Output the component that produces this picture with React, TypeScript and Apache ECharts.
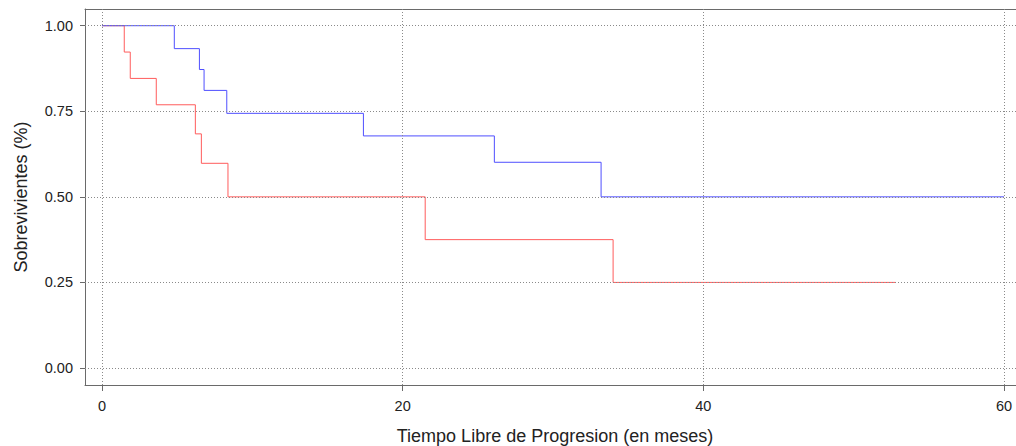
import React, { useEffect, useRef } from "react";
import * as echarts from "echarts";

// Kaplan-Meier steps: [month, survival]
const blueTimes = [0, 4.81, 6.48, 6.79, 8.3, 17.39, 26.1, 33.2, 60];
const blueSurv = [1.0, 0.933, 0.872, 0.811, 0.744, 0.678, 0.601, 0.5, 0.5];
const redTimes = [0, 1.48, 1.88, 3.61, 6.21, 6.61, 8.38, 21.5, 34.0, 52.8];
const redSurv = [1.0, 0.923, 0.846, 0.769, 0.684, 0.598, 0.5, 0.375, 0.25, 0.25];

const xTicks = [0, 20, 40, 60];
const yTicks = [0, 0.25, 0.5, 0.75, 1.0];

const xTitle = "Tiempo Libre de Progresion (en meses)";
const yTitle = "Sobrevivientes (%)";

export default function App() {
  const ref = useRef<HTMLDivElement>(null);
  useEffect(() => {
    if (!ref.current) return;
    const chart = echarts.init(ref.current, null, { renderer: "svg" });
    const font = "'Liberation Sans', Arial, sans-serif";
    const axisColor = "#6a6a6a";
    const gridStyle = { color: "#8a8a8a", width: 1, type: [1, 2] as any };
    const pairs = (t: number[], s: number[]) => t.map((v, i) => [v, s[i]]);
    chart.setOption({
      animation: false,
      backgroundColor: "#ffffff",
      textStyle: { fontFamily: font },
      grid: {
        left: 85,
        top: 9,
        width: 940,
        height: 376,
        containLabel: false,
        outerBoundsMode: "none",
      },
      xAxis: [
        {
          type: "value",
          min: -1.131,
          max: 61.4,
          position: "bottom",
          name: xTitle,
          nameLocation: "middle",
          nameGap: 42,
          nameTextStyle: { fontSize: 18, color: "#222", fontFamily: font },
          axisLine: { show: true, onZero: false, lineStyle: { color: axisColor, width: 1 } },
          axisTick: { show: true, length: 6, customValues: xTicks, lineStyle: { color: axisColor } },
          axisLabel: { customValues: xTicks, fontSize: 14.5, color: "#222", margin: 13, fontFamily: font },
          splitLine: { show: false },
        },
        {
          type: "value",
          min: -1.131,
          max: 61.4,
          position: "top",
          axisLine: { show: true, onZero: false, lineStyle: { color: axisColor, width: 1 } },
          axisTick: { show: false },
          axisLabel: { show: false },
          splitLine: { show: false },
        },
      ],
      yAxis: {
        type: "value",
        min: -0.0497,
        max: 1.0488,
        name: yTitle,
        nameLocation: "middle",
        nameGap: 55,
        nameTextStyle: { fontSize: 18, color: "#222", fontFamily: font },
        axisLine: { show: true, onZero: false, lineStyle: { color: axisColor, width: 1 } },
        axisTick: { show: true, length: 5, customValues: yTicks, lineStyle: { color: axisColor } },
        axisLabel: {
          customValues: yTicks,
          fontSize: 14.5,
          color: "#222",
          margin: 12,
          fontFamily: font,
          formatter: (v: number) => v.toFixed(2),
        },
        splitLine: { show: false },
      },
      series: [
        {
          type: "line",
          data: [[0, 1]],
          symbol: "none",
          lineStyle: { opacity: 0 },
          silent: true,
          z: 1,
          markLine: {
            silent: true,
            symbol: "none",
            label: { show: false },
            lineStyle: gridStyle,
            emphasis: { disabled: true },
            data: [
              ...xTicks.map((v) => ({ xAxis: v })),
              ...yTicks.map((v) => ({ yAxis: v })),
            ],
          },
        },
        {
          name: "red",
          type: "line",
          step: "end",
          data: pairs(redTimes, redSurv),
          symbol: "none",
          lineStyle: { color: "#ff5c5c", width: 1 },
          z: 3,
        },
        {
          name: "blue",
          type: "line",
          step: "end",
          data: pairs(blueTimes, blueSurv),
          symbol: "none",
          lineStyle: { color: "#4f4fff", width: 1 },
          z: 3,
        },
      ],
    });
    return () => chart.dispose();
  }, []);
  return (
    <div
      ref={ref}
      style={{ position: "fixed", left: 0, top: 0, width: 1016, height: 446, background: "#fff" }}
    />
  );
}
